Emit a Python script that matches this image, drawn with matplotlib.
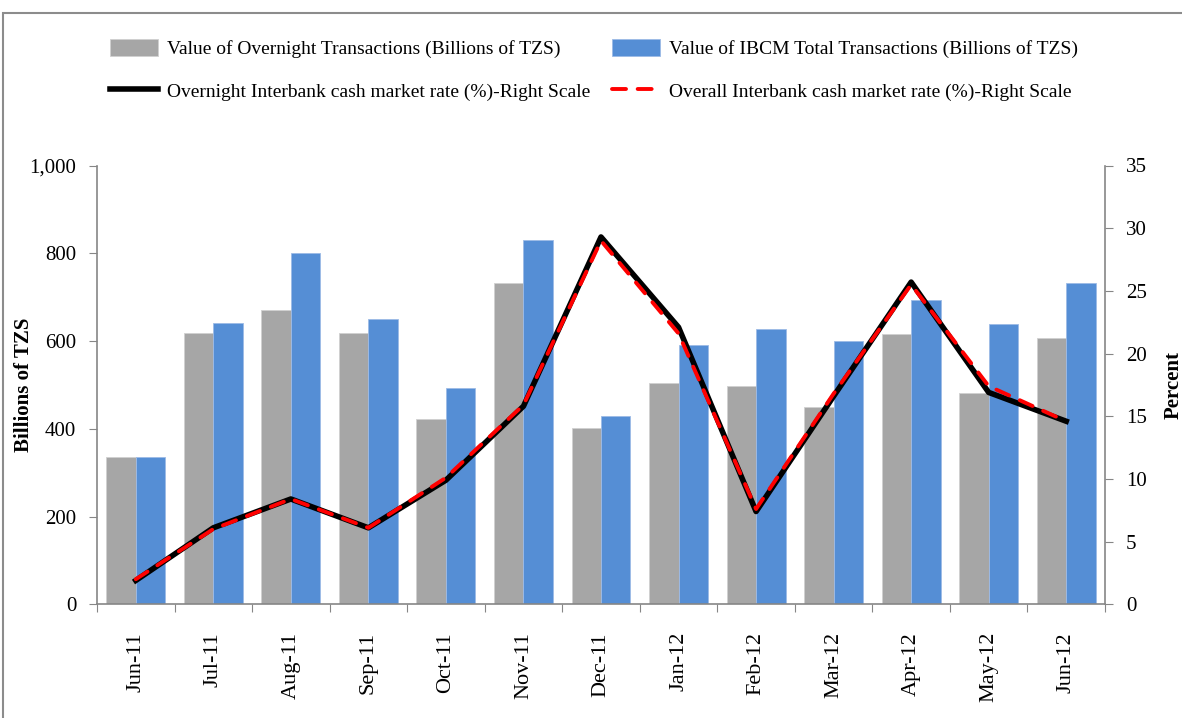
import matplotlib
matplotlib.use('Agg')
import matplotlib.pyplot as plt
from matplotlib.patches import Rectangle
from matplotlib.ticker import FuncFormatter
import numpy as np

# Data
months = ['Jun-11', 'Jul-11', 'Aug-11', 'Sep-11', 'Oct-11', 'Nov-11', 'Dec-11',
          'Jan-12', 'Feb-12', 'Mar-12', 'Apr-12', 'May-12', 'Jun-12']
overnight_value = [335, 618, 670, 618, 422, 733, 402, 504, 497, 449, 615, 481, 607]
ibcm_total_value = [335, 642, 800, 650, 492, 831, 429, 591, 627, 599, 693, 639, 733]
overnight_rate = [1.9, 6.1, 8.4, 6.1, 9.9, 15.8, 29.3, 22.1, 7.4, 16.6, 25.7, 16.9, 14.6]
overall_rate = [2.0, 6.0, 8.4, 6.1, 10.1, 15.9, 29.0, 21.6, 7.6, 16.8, 25.5, 17.4, 14.6]

plt.rcParams['font.family'] = ['Liberation Serif', 'DejaVu Serif']

gray = '#A6A6A6'
blue = '#558ED5'
axis_col = '#868686'

fig = plt.figure(figsize=(11.82, 7.18), dpi=100)
ax1 = fig.add_axes([97 / 1182, 1 - 604.3 / 718, (1105 - 97) / 1182, (604.3 - 165.5) / 718])

x = np.arange(len(months))
w = 0.38
ax1.bar(x - w / 2, overnight_value, width=w, color=gray, edgecolor='#D0D0D0', linewidth=0.6,
        label='Value of Overnight Transactions (Billions of TZS)')
ax1.bar(x + w / 2, ibcm_total_value, width=w, color=blue, edgecolor='#9DBBE6', linewidth=0.6,
        label='Value of IBCM Total Transactions (Billions of TZS)')

ax1.set_xlim(-0.5, len(months) - 0.5)
ax1.set_ylim(0, 1000)
ax1.set_yticks(range(0, 1001, 200))
ax1.yaxis.set_major_formatter(FuncFormatter(lambda v, p: f'{int(v):,}'))
ax1.set_xticks(np.arange(-0.5, len(months), 1))
ax1.set_xticklabels([])
ax1.set_xticks(x, minor=True)
ax1.set_xticklabels(months, minor=True, rotation=90, fontsize=16)
ax1.tick_params(axis='x', which='major', length=6, color=axis_col, direction='out')
ax1.tick_params(axis='x', which='minor', length=0, pad=20)
ax1.tick_params(axis='y', length=6, color=axis_col, labelsize=15, pad=9)
ax1.set_ylabel('Billions of TZS', fontsize=15, fontweight='bold')
ax1.yaxis.set_label_coords(-0.0625, 0.5)

for s in ['top', 'right']:
    ax1.spines[s].set_visible(False)
for s in ['left', 'bottom']:
    ax1.spines[s].set_color(axis_col)
    ax1.spines[s].set_linewidth(1.2)

# Rates on the right scale
ax2 = ax1.twinx()
ax2.plot(x, overnight_rate, color='black', linewidth=4,
         label='Overnight Interbank cash market rate (%)-Right Scale')
ax2.plot(x, overall_rate, color='red', linewidth=2.8, linestyle=(0, (3.6, 3.0)),
         dash_capstyle='round', label='Overall Interbank cash market rate (%)-Right Scale')
ax2.set_ylim(0, 35)
ax2.set_yticks(range(0, 36, 5))
ax2.tick_params(axis='y', length=6, color=axis_col, labelsize=15, pad=9)
ax2.set_ylabel('Percent', fontsize=15, fontweight='bold', rotation=90)
ax2.yaxis.set_label_coords(1.0585, 0.5)
for s in ['top', 'left', 'bottom']:
    ax2.spines[s].set_visible(False)
ax2.spines['right'].set_color(axis_col)
ax2.spines['right'].set_linewidth(1.2)

# Legend: two columns on top
h1, l1 = ax1.get_legend_handles_labels()
h2, l2 = ax2.get_legend_handles_labels()
handles = [h1[0], h2[0], h1[1], h2[1]]
labels = [l1[0], l2[0], l1[1], l2[1]]
fig.legend(handles, labels, loc='upper left', bbox_to_anchor=(92 / 1182, 1 - 22 / 718),
           ncol=2, frameon=False, fontsize=14, handlelength=2.5, handleheight=0.9,
           handletextpad=0.45, columnspacing=1.1, labelspacing=1.2)

# Outer chart border
fig.patches.append(Rectangle((3 / 1182, -0.05), 1.2, 1 - 13 / 718 + 0.05,
                             transform=fig.transFigure, fill=False,
                             edgecolor='#8C8C8C', linewidth=1.5))

plt.savefig('out.png', dpi=100)
